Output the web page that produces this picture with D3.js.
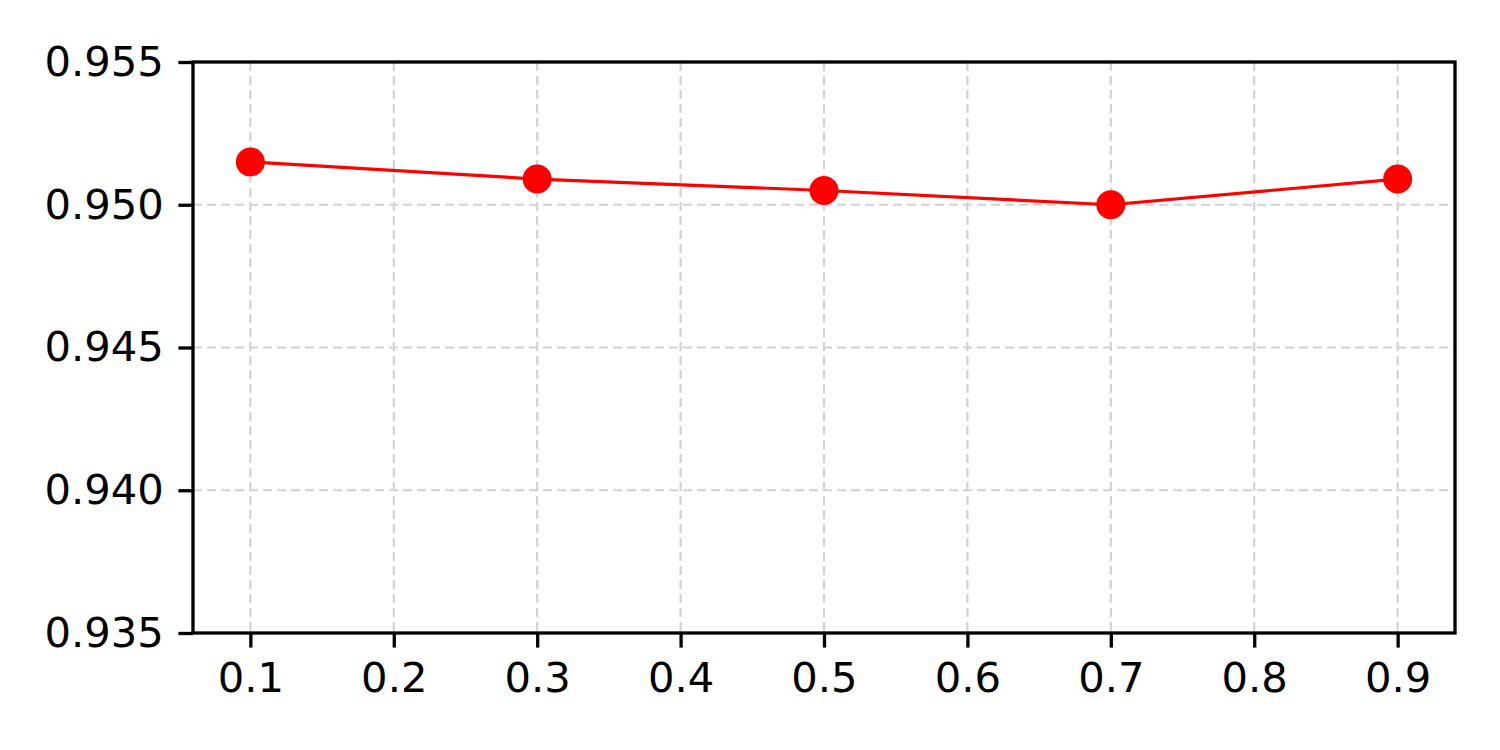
<!DOCTYPE html>
<html>
<head>
<meta charset="utf-8">
<script src="https://cdn.jsdelivr.net/npm/d3@7"></script>
<style>
  body { margin: 0; background: #fff; }
  svg { display: block; }
</style>
</head>
<body>
<div id="chart"></div>
<script>
const WIDTH = 1500
const HEIGHT = 750

// data
const xValues = [0.1, 0.3, 0.5, 0.7, 0.9]
const yValues = [0.9515, 0.9509, 0.9505, 0.9500, 0.9509]
const xTicks = [0.1, 0.2, 0.3, 0.4, 0.5, 0.6, 0.7, 0.8, 0.9]
const yTicks = [0.935, 0.940, 0.945, 0.950, 0.955]

const margin = { top: 62, right: 45, bottom: 117, left: 193 }
const innerW = WIDTH - margin.left - margin.right
const innerH = HEIGHT - margin.top - margin.bottom

const x = d3.scaleLinear().domain([0.06, 0.94]).range([0, innerW])
const y = d3.scaleLinear().domain([0.935, 0.955]).range([innerH, 0])

const svg = d3.select("#chart")
  .append("svg")
  .attr("width", WIDTH)
  .attr("height", HEIGHT)

const g = svg.append("g")
  .attr("transform", `translate(${margin.left},${margin.top})`)

// Grid

const grid = g.append("g")
  .attr("stroke", "#d2d2d2")
  .attr("stroke-width", 2.2)
  .attr("stroke-dasharray", "9,5")

grid.selectAll(".vgrid")
  .data(xTicks)
  .join("line")
  .attr("x1", d => x(d))
  .attr("x2", d => x(d))
  .attr("y1", 0)
  .attr("y2", innerH)

grid.selectAll(".hgrid")
  .data(yTicks)
  .join("line")
  .attr("x1", 0)
  .attr("x2", innerW)
  .attr("y1", d => y(d))
  .attr("y2", d => y(d))

// Line + markers

const points = xValues.map((v, i) => [v, yValues[i]])

g.append("path")
  .datum(points)
  .attr("fill", "none")
  .attr("stroke", "red")
  .attr("stroke-width", 3.2)
  .attr("d", d3.line().x(d => x(d[0])).y(d => y(d[1])))

g.selectAll(".dot")
  .data(points)
  .join("circle")
  .attr("cx", d => x(d[0]))
  .attr("cy", d => y(d[1]))
  .attr("r", 14.5)
  .attr("fill", "red")

// Axes

const tickLen = 14.6

const xAxis = g.append("g")
  .attr("transform", `translate(0,${innerH})`)
  .call(d3.axisBottom(x).tickValues(xTicks).tickFormat(d3.format(".1f"))
    .tickSize(tickLen).tickPadding(tickLen).tickSizeOuter(0))

const yAxis = g.append("g")
  .call(d3.axisLeft(y).tickValues(yTicks).tickFormat(d3.format(".3f"))
    .tickSize(tickLen).tickPadding(tickLen).tickSizeOuter(0))

for (const ax of [xAxis, yAxis]) {
  ax.select(".domain").remove()
  ax.selectAll(".tick line").attr("stroke", "#000").attr("stroke-width", 3.3)
  ax.selectAll(".tick text")
    .attr("fill", "#000")
    .style("font-family", "'DejaVu Sans', sans-serif")
    .style("font-size", "41.7px")
}

// frame
g.append("rect")
  .attr("width", innerW)
  .attr("height", innerH)
  .attr("fill", "none")
  .attr("stroke", "#000")
  .attr("stroke-width", 3.3)
</script>
</body>
</html>
